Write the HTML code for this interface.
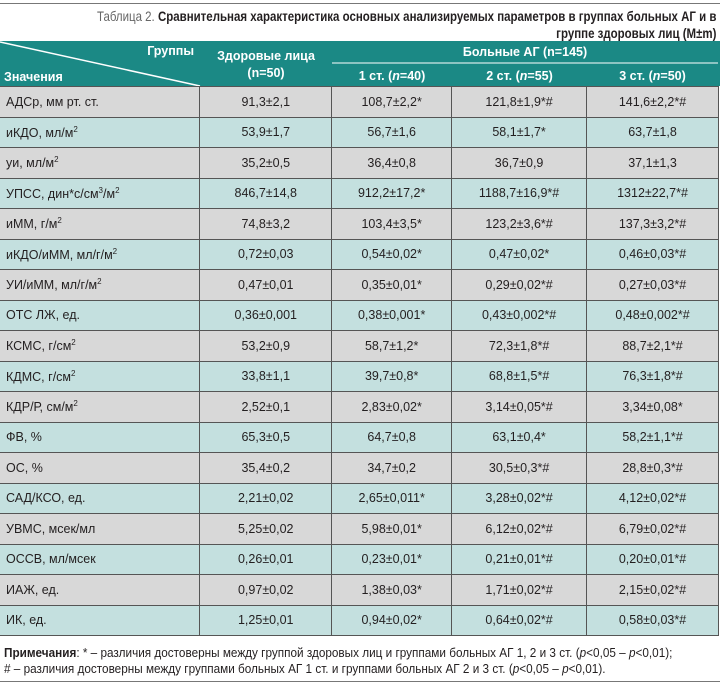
<!DOCTYPE html>
<html><head><meta charset="utf-8"><style>
body{margin:0;width:720px;height:684px;background:#fff;position:relative;overflow:hidden;font-family:"Liberation Sans Narrow","Liberation Sans",sans-serif;color:#231f20}
.hl{position:absolute;left:0;width:720px;height:1px;background:#777}
.tl{position:absolute;right:4px;white-space:nowrap;font-size:14px;line-height:18px;font-weight:bold;transform:scaleX(0.82);transform-origin:right center}
.tl span{font-weight:normal;color:#666}
.hdr{position:absolute;left:0;top:41px;width:720px;height:45px;background:#1b8985;color:#fff;font-weight:bold;font-size:12.5px}
.hdr div{position:absolute;white-space:nowrap}
table{position:absolute;left:0;top:86px;border-collapse:collapse;width:719px}
td{height:29.5px;padding:0;border:1px solid #555;font-size:12.5px;text-align:center}
td:first-child{text-align:left;padding-left:6px;border-left:none}
tr.g td{background:#d8d8d8}
tr.t td{background:#c4e0df}
.note{position:absolute;left:4px;top:645px;font-size:12.5px;line-height:16px;white-space:nowrap;transform:scaleX(0.94);transform-origin:left top}
</style></head><body>
<div class="hl" style="top:3px"></div>
<div class="tl" style="top:7px"><span>Таблица 2.</span> Сравнительная характеристика основных анализируемых параметров в группах больных АГ и в</div>
<div class="tl" style="top:24px">группе здоровых лиц (M±m)</div>
<div class="hdr">
<svg width="720" height="45" style="position:absolute;left:0;top:0"><line x1="0" y1="1" x2="200" y2="45" stroke="#fff" stroke-width="1.5"/><line x1="332" y1="22" x2="718" y2="22" stroke="#fff" stroke-width="1"/></svg>
<div style="right:526px;top:3px">Группы</div>
<div style="left:4px;top:29px">Значения</div>
<div style="left:200px;width:132px;text-align:center;top:7px;line-height:17px">Здоровые лица<br>(n=50)</div>
<div style="left:332px;width:386px;text-align:center;top:4px">Больные АГ (n=145)</div>
<div style="left:332px;width:120px;text-align:center;top:28px">1 ст. (<i>n</i>=40)</div>
<div style="left:452px;width:135px;text-align:center;top:28px">2 ст. (<i>n</i>=55)</div>
<div style="left:587px;width:131px;text-align:center;top:28px">3 ст. (<i>n</i>=50)</div>
</div>
<table>
<colgroup><col style="width:200px"><col style="width:132px"><col style="width:120px"><col style="width:135px"><col style="width:132px"></colgroup>
<tr class="g"><td>АДСр, мм рт. ст.</td><td>91,3±2,1</td><td>108,7±2,2*</td><td>121,8±1,9*#</td><td>141,6±2,2*#</td></tr>
<tr class="t"><td>иКДО, мл/м<sup style="font-size:8px">2</sup></td><td>53,9±1,7</td><td>56,7±1,6</td><td>58,1±1,7*</td><td>63,7±1,8</td></tr>
<tr class="g"><td>уи, мл/м<sup style="font-size:8px">2</sup></td><td>35,2±0,5</td><td>36,4±0,8</td><td>36,7±0,9</td><td>37,1±1,3</td></tr>
<tr class="t"><td>УПСС, дин*с/см<sup style="font-size:8px">3</sup>/м<sup style="font-size:8px">2</sup></td><td>846,7±14,8</td><td>912,2±17,2*</td><td>1188,7±16,9*#</td><td>1312±22,7*#</td></tr>
<tr class="g"><td>иММ, г/м<sup style="font-size:8px">2</sup></td><td>74,8±3,2</td><td>103,4±3,5*</td><td>123,2±3,6*#</td><td>137,3±3,2*#</td></tr>
<tr class="t"><td>иКДО/иММ, мл/г/м<sup style="font-size:8px">2</sup></td><td>0,72±0,03</td><td>0,54±0,02*</td><td>0,47±0,02*</td><td>0,46±0,03*#</td></tr>
<tr class="g"><td>УИ/иММ, мл/г/м<sup style="font-size:8px">2</sup></td><td>0,47±0,01</td><td>0,35±0,01*</td><td>0,29±0,02*#</td><td>0,27±0,03*#</td></tr>
<tr class="t"><td>ОТС ЛЖ, ед.</td><td>0,36±0,001</td><td>0,38±0,001*</td><td>0,43±0,002*#</td><td>0,48±0,002*#</td></tr>
<tr class="g"><td>КСМС, г/см<sup style="font-size:8px">2</sup></td><td>53,2±0,9</td><td>58,7±1,2*</td><td>72,3±1,8*#</td><td>88,7±2,1*#</td></tr>
<tr class="t"><td>КДМС, г/см<sup style="font-size:8px">2</sup></td><td>33,8±1,1</td><td>39,7±0,8*</td><td>68,8±1,5*#</td><td>76,3±1,8*#</td></tr>
<tr class="g"><td>КДР/Р, см/м<sup style="font-size:8px">2</sup></td><td>2,52±0,1</td><td>2,83±0,02*</td><td>3,14±0,05*#</td><td>3,34±0,08*</td></tr>
<tr class="t"><td>ФВ, %</td><td>65,3±0,5</td><td>64,7±0,8</td><td>63,1±0,4*</td><td>58,2±1,1*#</td></tr>
<tr class="g"><td>ОС, %</td><td>35,4±0,2</td><td>34,7±0,2</td><td>30,5±0,3*#</td><td>28,8±0,3*#</td></tr>
<tr class="t"><td>САД/КСО, ед.</td><td>2,21±0,02</td><td>2,65±0,011*</td><td>3,28±0,02*#</td><td>4,12±0,02*#</td></tr>
<tr class="g"><td>УВМС, мсек/мл</td><td>5,25±0,02</td><td>5,98±0,01*</td><td>6,12±0,02*#</td><td>6,79±0,02*#</td></tr>
<tr class="t"><td>ОССВ, мл/мсек</td><td>0,26±0,01</td><td>0,23±0,01*</td><td>0,21±0,01*#</td><td>0,20±0,01*#</td></tr>
<tr class="g"><td>ИАЖ, ед.</td><td>0,97±0,02</td><td>1,38±0,03*</td><td>1,71±0,02*#</td><td>2,15±0,02*#</td></tr>
<tr class="t"><td>ИК, ед.</td><td>1,25±0,01</td><td>0,94±0,02*</td><td>0,64±0,02*#</td><td>0,58±0,03*#</td></tr>
</table>
<div class="note"><b>Примечания</b>: * – различия достоверны между группой здоровых лиц и группами больных АГ 1, 2 и 3 ст. (<i>p</i>&lt;0,05 – <i>p</i>&lt;0,01);<br># – различия достоверны между группами больных АГ 1 ст. и группами больных АГ 2 и 3 ст. (<i>p</i>&lt;0,05 – <i>p</i>&lt;0,01).</div>
<div class="hl" style="top:681px"></div>
</body></html>
